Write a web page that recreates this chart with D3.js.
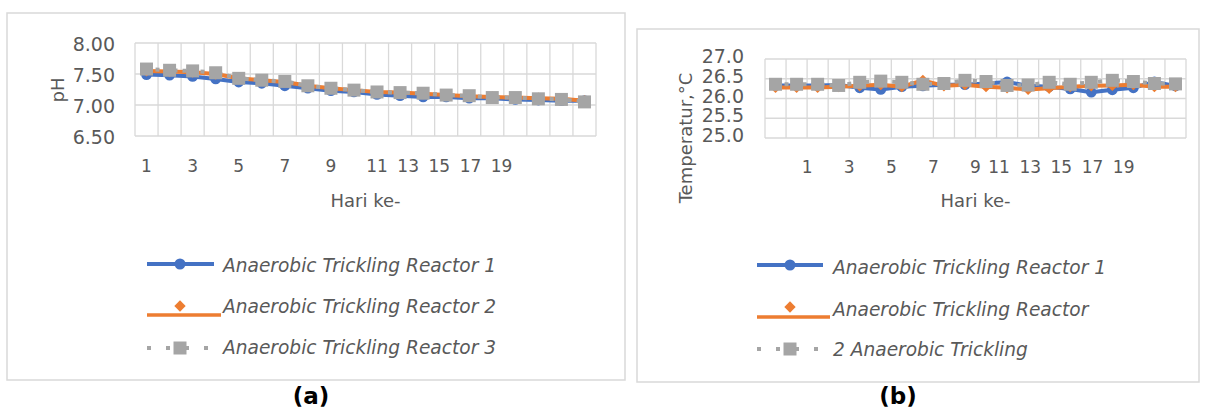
<!doctype html>
<html lang="en">
<head>
<meta charset="utf-8">
<title>pH dan Temperatur</title>
<script src="https://d3js.org/d3.v7.min.js"></script>
<style>
  body { margin: 0; background: #fff; }
  svg { display: block; font-family: "DejaVu Sans", Verdana, sans-serif; }
</style>
</head>
<body>
<div id="chart"></div>
<script>
// categories
const days = [1, 2, 3, 4, 5, 6, 7, 8, 9, 10, 11, 12, 13, 14, 15, 16, 17, 18, 19, 20];
const xTickLabels = ["1", "3", "5", "7", "9", "11", "13", "15", "17", "19"];

// (a) pH
const phR1 = [7.49, 7.48, 7.46, 7.42, 7.37, 7.35, 7.31, 7.27, 7.23, 7.21, 7.17, 7.15, 7.13, 7.13, 7.11, 7.11, 7.09, 7.08, 7.07, 7.07];
const phR2 = [7.55, 7.54, 7.53, 7.50, 7.43, 7.40, 7.37, 7.31, 7.27, 7.24, 7.21, 7.20, 7.18, 7.16, 7.14, 7.13, 7.12, 7.11, 7.10, 7.07];
const phR3 = [7.58, 7.56, 7.55, 7.52, 7.43, 7.40, 7.38, 7.31, 7.27, 7.24, 7.21, 7.20, 7.19, 7.16, 7.15, 7.12, 7.12, 7.10, 7.09, 7.05];
const phTicks = [6.5, 7.0, 7.5, 8.0];

// (b) temperatur
const tempR1 = [26.33, 26.33, 26.33, 26.34, 26.27, 26.23, 26.30, 26.32, 26.35, 26.35, 26.38, 26.42, 26.32, 26.30, 26.24, 26.16, 26.22, 26.27, 26.42, 26.32];
const tempR2 = [26.28, 26.28, 26.28, 26.30, 26.32, 26.35, 26.30, 26.46, 26.32, 26.35, 26.30, 26.27, 26.23, 26.26, 26.30, 26.32, 26.33, 26.35, 26.30, 26.30];
const tempR3 = [26.36, 26.36, 26.36, 26.33, 26.41, 26.44, 26.41, 26.36, 26.38, 26.46, 26.43, 26.33, 26.34, 26.41, 26.36, 26.41, 26.46, 26.43, 26.38, 26.37];
const tempTicks = [25.0, 25.5, 26.0, 26.5, 27.0];

const legendA = ["Anaerobic Trickling Reactor 1", "Anaerobic Trickling Reactor 2", "Anaerobic Trickling Reactor 3"];
const legendB = ["Anaerobic Trickling Reactor 1", "Anaerobic Trickling Reactor", "2 Anaerobic Trickling"];

const colors = ["#4472c4", "#ed7d31", "#a5a5a5"];
const textColor = "#595959";
const gridColor = "#d9d9d9";

const svg = d3.select("#chart").append("svg")
    .attr("width", 1208)
    .attr("height", 412)
    .attr("viewBox", [0, 0, 1208, 412]);

function drawPanel(cfg) {
  const g = svg.append("g");

  g.append("rect")
      .attr("x", cfg.frame[0]).attr("y", cfg.frame[1])
      .attr("width", cfg.frame[2]).attr("height", cfg.frame[3])
      .attr("fill", "#fff").attr("stroke", gridColor).attr("stroke-width", 1.5);

  const x = d3.scaleBand(days, [cfg.plot[0], cfg.plot[1]]);
  const y = d3.scaleLinear(cfg.domain, [cfg.plot[3], cfg.plot[2]]);
  const bw = x.bandwidth();

  // horizontal grid
  g.append("g").selectAll("line").data(cfg.ticks).join("line")
      .attr("x1", cfg.plot[0]).attr("x2", cfg.plot[1])
      .attr("y1", d => y(d)).attr("y2", d => y(d))
      .attr("stroke", gridColor).attr("stroke-width", 1.3);

  // vertical grid at band edges
  g.append("g").selectAll("line").data(days.concat(["end"])).join("line")
      .attr("x1", d => d === "end" ? cfg.plot[1] : x(d))
      .attr("x2", d => d === "end" ? cfg.plot[1] : x(d))
      .attr("y1", cfg.plot[2]).attr("y2", cfg.plot[3])
      .attr("stroke", gridColor).attr("stroke-width", 1.3);

  // y tick labels
  g.append("g")
      .attr("font-size", 19).attr("fill", textColor).attr("text-anchor", "end")
    .selectAll("text").data(cfg.ticks).join("text")
      .attr("x", cfg.yLabelRight)
      .attr("y", d => y(d) + cfg.yLabelShift)
      .text(d => d3.format(cfg.fmt)(d));

  // x tick labels: first five on the axis, the rest packed together
  const xl = g.append("g").attr("font-size", 17).attr("fill", textColor);
  xl.selectAll("text.t").data(xTickLabels.slice(0, 5)).join("text")
      .attr("class", "t")
      .attr("text-anchor", "middle")
      .attr("x", d => cfg.tickX(x, +d, bw))
      .attr("y", cfg.xLabelY)
      .text(d => d);
  let cursor = null;
  xTickLabels.slice(5).forEach(lbl => {
    const t = xl.append("text").attr("y", cfg.xLabelY).text(lbl);
    const w = t.node().getComputedTextLength();
    if (cursor === null) cursor = cfg.packStart(x, bw) - w / 2;
    t.attr("x", cursor);
    cursor += w + 9.5;
  });

  // axis titles
  g.append("text")
      .attr("x", (cfg.plot[0] + cfg.plot[1]) / 2).attr("y", cfg.xTitleY)
      .attr("text-anchor", "middle").attr("font-size", 18).attr("fill", textColor)
      .text("Hari ke-");
  g.append("text")
      .attr("transform", `translate(${cfg.yTitle[1]},${cfg.yTitle[2]}) rotate(-90)`)
      .attr("text-anchor", "middle").attr("font-size", 18).attr("fill", textColor)
      .text(cfg.yTitle[0]);

  // series
  const line = d3.line().x((d, i) => x(days[i]) + bw / 2).y(d => y(d));
  const sq = d3.symbol(d3.symbolSquare, 169);
  const dia = d3.symbol(d3.symbolSquare, 64); // drawn rotated 45deg

  cfg.series.forEach((s, k) => {
    g.append("path").datum(s)
        .attr("fill", "none").attr("stroke", colors[k]).attr("stroke-width", 4)
        .attr("stroke-linejoin", "round")
        .attr("stroke-dasharray", k === 2 ? "4 5" : null)
        .attr("d", line);
    const m = g.append("g").selectAll("path").data(s).join("path")
        .attr("fill", colors[k])
        .attr("transform", (d, i) => `translate(${x(days[i]) + bw / 2},${y(d)})` + (k === 1 ? " rotate(45)" : ""));
    if (k === 0) m.attr("d", d3.symbol(d3.symbolCircle, 90));
    else if (k === 1) m.attr("d", dia);
    else m.attr("d", sq);
  });

  // legend
  const L = cfg.legend;
  const lg = g.append("g");
  // row 1
  lg.append("line").attr("x1", L.x0).attr("x2", L.x1).attr("y1", L.sy[0]).attr("y2", L.sy[0])
      .attr("stroke", colors[0]).attr("stroke-width", 4);
  lg.append("circle").attr("cx", L.mx).attr("cy", L.sy[0]).attr("r", 5.5).attr("fill", colors[0]);
  // row 2
  lg.append("line").attr("x1", L.x0).attr("x2", L.x1b).attr("y1", L.orangeY).attr("y2", L.orangeY)
      .attr("stroke", colors[1]).attr("stroke-width", 3.5);
  lg.append("path").attr("d", dia).attr("fill", colors[1])
      .attr("transform", `translate(${L.mx},${L.sy[1]}) rotate(45)`);
  // row 3
  lg.append("line").attr("x1", L.x0).attr("x2", L.x1).attr("y1", L.sy[2]).attr("y2", L.sy[2])
      .attr("stroke", colors[2]).attr("stroke-width", 4).attr("stroke-dasharray", "4 15");
  lg.append("path").attr("d", sq).attr("fill", colors[2])
      .attr("transform", `translate(${L.mx},${L.sy[2]})`);

  lg.append("g")
      .attr("font-size", 18.6).attr("font-style", "italic").attr("fill", textColor)
    .selectAll("text").data(cfg.legendLabels).join("text")
      .attr("x", L.tx).attr("y", (d, i) => L.ty[i])
      .text(d => d);

  // caption
  g.append("text")
      .attr("x", cfg.caption[1]).attr("y", 404)
      .attr("text-anchor", "middle").attr("font-size", 23).attr("font-weight", "bold")
      .attr("fill", "#000")
      .text(cfg.caption[0]);
}

drawPanel({
  frame: [7, 13, 618, 367],
  plot: [135, 596, 43, 136],
  domain: [6.5, 8.0],
  ticks: phTicks,
  fmt: ".2f",
  yLabelRight: 115,
  yLabelShift: 7.5,
  tickX: (x, d, bw) => x(d) + bw / 2,
  packStart: (x, bw) => x(11) + bw / 2,
  xLabelY: 172,
  xTitleY: 207,
  yTitle: ["pH", 64, 90],
  series: [phR1, phR2, phR3],
  legendLabels: legendA,
  legend: { x0: 147, x1: 214, x1b: 221, mx: 180, sy: [264, 306, 348], orangeY: 315, tx: 223, ty: [272, 313, 354] },
  caption: ["(a)", 311]
});

drawPanel({
  frame: [637, 29, 562, 353],
  plot: [765, 1186, 59, 138],
  domain: [25.0, 27.0],
  ticks: tempTicks,
  fmt: ".1f",
  yLabelRight: 744,
  yLabelShift: 4,
  tickX: (x, d, bw) => x(d + 2),
  packStart: (x, bw) => x(12) + bw * 0.12,
  xLabelY: 173,
  xTitleY: 207,
  yTitle: ["Temperatur,°C", 692, 138],
  series: [tempR1, tempR2, tempR3],
  legendLabels: legendB,
  legend: { x0: 757, x1: 823, x1b: 830, mx: 790, sy: [265, 307, 349], orangeY: 317, tx: 833, ty: [274, 316, 356] },
  caption: ["(b)", 898]
});
</script>
</body>
</html>
